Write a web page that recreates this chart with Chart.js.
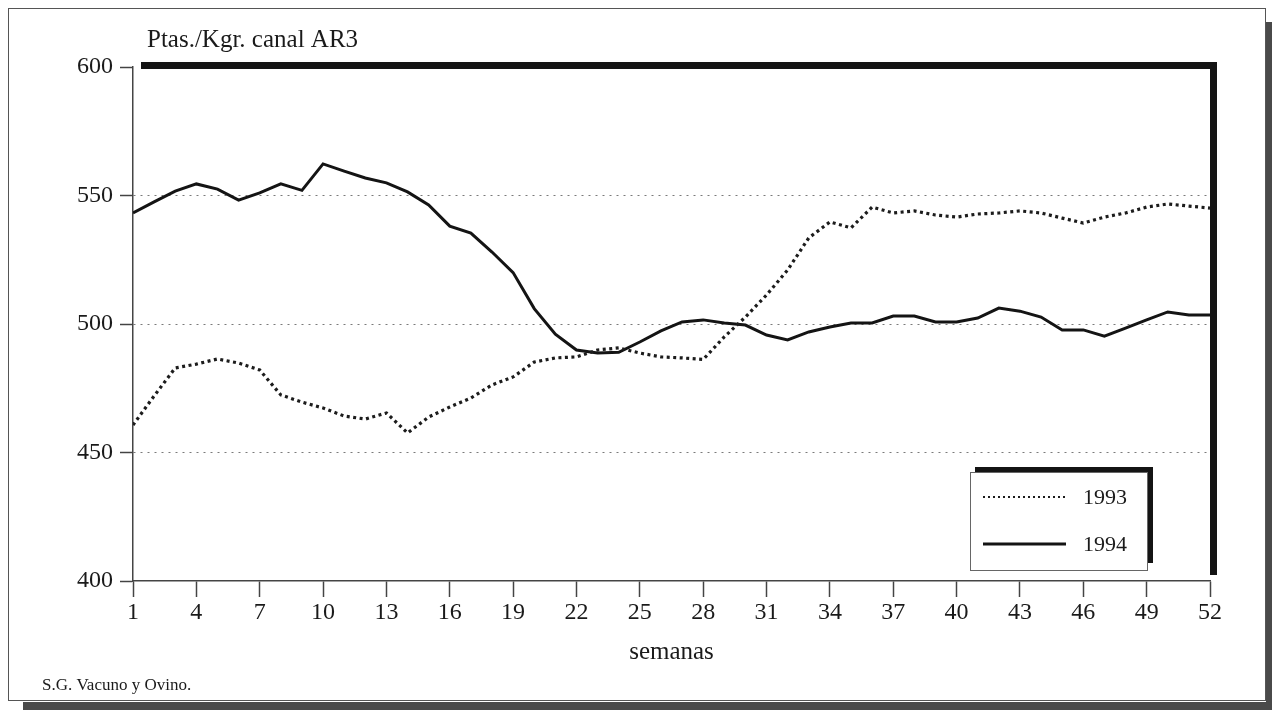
<!DOCTYPE html>
<html lang="es">
<head>
    <meta charset="UTF-8">
    <title>Ptas./Kgr. canal AR3</title>
    <script src="https://cdn.jsdelivr.net/npm/chart.js"></script>
</head>
<body>
    <div class="marco">
        <canvas id="grafico" width="1272" height="710"></canvas>
    </div>
</body>
</html>

<script>
    // datos
    var semanas = [1,2,3,4,5,6,7,8,9,10,11,12,13,14,15,16,17,18,19,20,21,22,23,24,25,26,
                   27,28,29,30,31,32,33,34,35,36,37,38,39,40,41,42,43,44,45,46,47,48,49,50,51,52];
    var precios1993 = [460.7,472,482.9,484.4,486.4,484.8,482.1,472.4,469.6,467.3,
                       464.2,463,465.4,457.6,463.8,467.7,471.2,476.3,479.4,485.2,
                       486.8,487.2,489.9,490.7,488.7,487.2,486.8,486.2,495,502.7,
                       511.3,521,533.5,539.7,537.4,545.5,543.2,544,542.4,541.6,
                       542.8,543.2,544,543.2,541.2,539.3,541.6,543.2,545.5,546.7,
                       545.9,545.1];
    var precios1994 = [543.2,547.5,551.7,554.5,552.5,548.2,551,554.5,552,562.3,
                       559.5,556.8,554.9,551.4,546.3,538.1,535.4,528,520,506,
                       496,489.9,488.7,489,493,497.3,500.8,501.6,500.4,499.6,
                       495.7,493.8,496.9,498.8,500.4,500.4,503.1,503.1,500.8,500.8,
                       502.3,506.2,505,502.7,497.7,497.7,495.3,498.4,501.6,504.7,
                       503.5,503.5];
    var ticksSemanas = [1,4,7,10,13,16,19,22,25,28,31,34,37,40,43,46,49,52];
    var series = ['1993','1994'];
    var titulo = 'Ptas./Kgr. canal AR3';
    var tituloX = 'semanas';
    var fuente = 'S.G. Vacuno y Ovino.';

    var letra = "'Liberation Serif', 'DejaVu Serif', serif";

    function puntos(valores){
        var lista = [];
        for(var i = 0; i < semanas.length; i++){
            lista.push({x: semanas[i], y: valores[i]});
        }
        return lista;
    }

    // marco, sombras, textos y leyenda
    const decoracion = {
        id: 'decoracion',
        beforeDraw(chart){
            const ctx = chart.ctx;
            ctx.save();
            ctx.fillStyle = '#ffffff';
            ctx.fillRect(0, 0, chart.width, chart.height);
            ctx.fillStyle = '#4a4a4a';
            ctx.fillRect(1266, 22, 6, 688);
            ctx.fillRect(23, 702, 1249, 8);
            ctx.strokeStyle = '#555';
            ctx.lineWidth = 1;
            ctx.strokeRect(8.5, 8.5, 1257, 692);
            ctx.restore();
        },
        afterDraw(chart){
            const ctx = chart.ctx;
            const a = chart.chartArea;
            ctx.save();
            ctx.fillStyle = '#141414';
            ctx.fillRect(a.left + 8, a.top - 5, a.right + 7 - (a.left + 8), 7);
            ctx.fillRect(a.right, a.top - 5, 7, a.bottom - 6 - (a.top - 5));

            ctx.fillStyle = '#1a1a1a';
            ctx.textBaseline = 'middle';
            ctx.textAlign = 'left';
            ctx.font = '25px ' + letra;
            ctx.fillText(titulo, 147, 40);
            ctx.textAlign = 'center';
            ctx.fillText(tituloX, (a.left + a.right) / 2, 652);
            ctx.textAlign = 'left';
            ctx.font = '17px ' + letra;
            ctx.fillText(fuente, 42, 686);

            // leyenda
            var lx = 970, ly = 472, lw = 177, lh = 98;
            ctx.fillStyle = '#141414';
            ctx.fillRect(lx + 5, ly - 5, lw + 1, 7);
            ctx.fillRect(lx + lw - 1, ly - 5, 7, lh - 2);
            ctx.fillStyle = '#ffffff';
            ctx.fillRect(lx, ly, lw, lh);
            ctx.strokeStyle = '#666';
            ctx.lineWidth = 1;
            ctx.strokeRect(lx + 0.5, ly + 0.5, lw, lh);
            chart.data.datasets.forEach(function(ds, i){
                var y = ly + 25 + i * 47;
                ctx.strokeStyle = ds.borderColor;
                ctx.lineWidth = i == 0 ? 2 : 3;
                ctx.setLineDash(i == 0 ? [2, 3] : []);
                ctx.beginPath();
                ctx.moveTo(lx + 13, y);
                ctx.lineTo(lx + 96, y);
                ctx.stroke();
                ctx.setLineDash([]);
                ctx.fillStyle = '#1a1a1a';
                ctx.font = '22px ' + letra;
                ctx.textBaseline = 'middle';
                ctx.fillText(ds.label, lx + 113, y + 1);
            });
            ctx.restore();
        }
    };

    const data = {
        datasets: [{
            label: series[0],
            data: puntos(precios1993),
            borderColor: '#1c1c1c',
            borderWidth: 3.2,
            borderDash: [3, 3.5],
            pointRadius: 0,
            tension: 0
        },
        {
            label: series[1],
            data: puntos(precios1994),
            borderColor: '#141414',
            borderWidth: 3,
            pointRadius: 0,
            tension: 0
        }]
    };

    const config = {
        type: 'line',
        data: data,
        options: {
            responsive: false,
            animation: false,
            layout: {
                padding: {left: 0, top: 67, right: 62, bottom: 0}
            },
            plugins: {
                legend: {display: false},
                title: {display: false},
                tooltip: {enabled: false}
            },
            scales: {
                x: {
                    type: 'linear',
                    min: 1,
                    max: 52,
                    afterFit: function(scale){ scale.height = 129; },
                    afterBuildTicks: function(scale){
                        scale.ticks = ticksSemanas.map(function(v){ return {value: v}; });
                    },
                    grid: {
                        drawOnChartArea: false,
                        drawTicks: true,
                        tickLength: 16,
                        tickColor: '#444',
                        tickWidth: 1.5
                    },
                    border: {color: '#444', width: 1.5},
                    ticks: {
                        color: '#1a1a1a',
                        padding: 1,
                        maxRotation: 0,
                        autoSkip: false,
                        font: {family: letra, size: 24}
                    }
                },
                y: {
                    min: 400,
                    max: 600,
                    afterFit: function(scale){ scale.width = 133; },
                    grid: {
                        color: function(ctx){
                            var v = ctx.tick ? ctx.tick.value : 0;
                            return (v > 400 && v < 600) ? '#7a7a7a' : 'rgba(0,0,0,0)';
                        },
                        lineWidth: 1,
                        tickLength: 13,
                        tickColor: '#444',
                        tickWidth: 1.5,
                        tickBorderDash: []
                    },
                    border: {color: '#444', width: 1.5, dash: [2, 5]},
                    ticks: {
                        stepSize: 50,
                        color: '#1a1a1a',
                        padding: 7,
                        font: {family: letra, size: 24}
                    }
                }
            }
        },
        plugins: [decoracion]
    };

    var grafico = new Chart(document.getElementById('grafico'), config);
</script>
<style>
    body{
        margin: 0;
        background-color: white;
    }
    .marco{
        width: 1272px;
        height: 710px;
    }
</style>
